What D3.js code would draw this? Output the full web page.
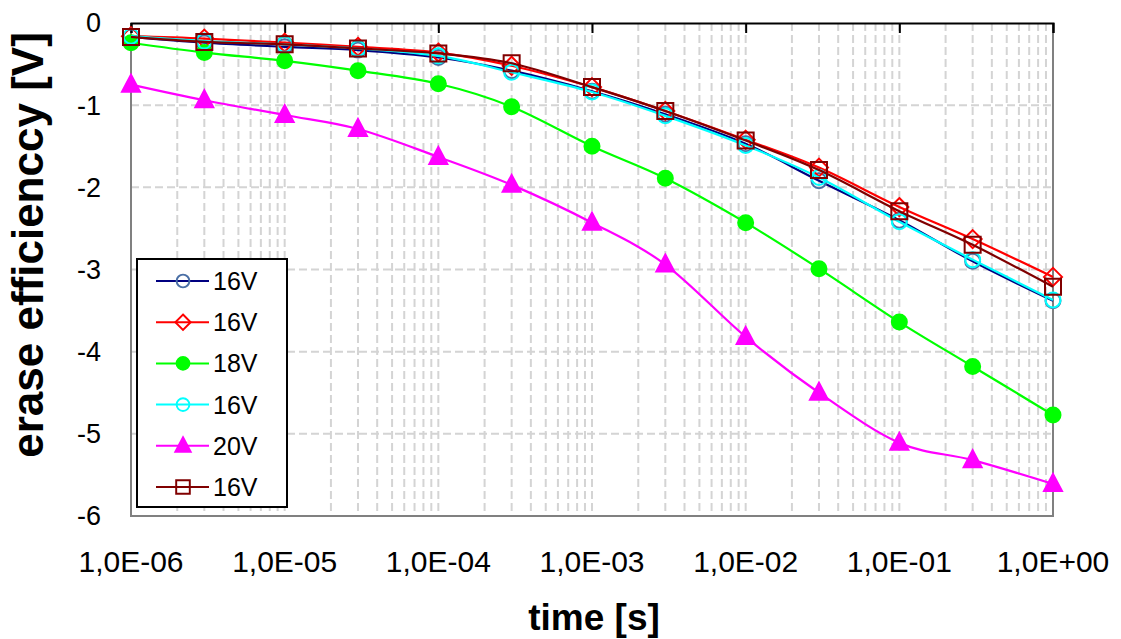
<!DOCTYPE html>
<html>
<head>
<meta charset="utf-8">
<script src="https://cdn.jsdelivr.net/npm/d3@7"></script>
<style>
  body { margin: 0; background: #fff; }
  svg { display: block; font-family: "Liberation Sans", Arial, sans-serif; }
</style>
</head>
<body>
<svg id="chart" width="1121" height="639"></svg>
<script>
// Erase time [s], one measurement per half decade
const times = [1e-6, 3e-6, 1e-5, 3e-5, 1e-4, 3e-4, 1e-3, 3e-3, 1e-2, 3e-2, 1e-1, 3e-1, 1];

// Threshold shift [V] for each erase run
const run16a = [-0.17, -0.24, -0.29, -0.33, -0.42, -0.58, -0.83, -1.11, -1.47, -1.92, -2.40, -2.90, -3.38];
const run16b = [-0.16, -0.19, -0.24, -0.29, -0.36, -0.52, -0.78, -1.07, -1.42, -1.76, -2.24, -2.63, -3.09];
const run18  = [-0.24, -0.36, -0.46, -0.58, -0.74, -1.02, -1.50, -1.89, -2.43, -2.99, -3.64, -4.18, -4.77];
const run16c = [-0.16, -0.22, -0.26, -0.31, -0.40, -0.60, -0.84, -1.13, -1.49, -1.88, -2.42, -2.88, -3.37];
const run20  = [-0.75, -0.94, -1.12, -1.29, -1.63, -1.97, -2.43, -2.94, -3.82, -4.50, -5.11, -5.32, -5.61];
const run16d = [-0.17, -0.23, -0.26, -0.31, -0.37, -0.49, -0.78, -1.07, -1.43, -1.79, -2.29, -2.70, -3.21];

const seriesLabels = ["16V", "16V", "18V", "16V", "20V", "16V"];

const xTickValues = [1e-6, 1e-5, 1e-4, 1e-3, 1e-2, 1e-1, 1];
const xTickLabels = ["1,0E-06", "1,0E-05", "1,0E-04", "1,0E-03", "1,0E-02", "1,0E-01", "1,0E+00"];
const yTickValues = [0, -1, -2, -3, -4, -5, -6];

const allRuns = [run16a, run16b, run18, run16c, run20, run16d];

// Line / marker appearance per run
const looks = [
  { line: "#000080", mark: "#4a6fa5", shape: "circle",   fill: "none" },
  { line: "#ff0000", mark: "#ff0000", shape: "diamond",  fill: "none" },
  { line: "#00ff00", mark: "#00ff00", shape: "dot",      fill: "#00ff00" },
  { line: "#00ffff", mark: "#00ffff", shape: "circle",   fill: "none" },
  { line: "#ff00ff", mark: "#ff00ff", shape: "triangle", fill: "#ff00ff" },
  { line: "#800000", mark: "#800000", shape: "square",   fill: "none" }
];

const svg = d3.select("#chart");
const plotL = 131, plotR = 1053, plotT = 23, plotB = 516;

const x = d3.scaleLog().domain([1e-6, 1]).range([plotL, plotR]);
const y = d3.scaleLinear().domain([-6, 0]).range([plotB, plotT]);

// Minor + major vertical grid (dashed)
const gridX = [];
for (let e = -6; e < 0; e++) {
  for (let m = 1; m <= 9; m++) gridX.push(m * Math.pow(10, e));
}
const grid = svg.append("g").attr("stroke", "#d4d4d4").attr("stroke-width", 2)
  .attr("stroke-dasharray", "8,4");
grid.selectAll("line.v").data(gridX.filter(v => v > 1e-6)).join("line")
  .attr("class", "v")
  .attr("x1", d => x(d)).attr("x2", d => x(d))
  .attr("y1", plotT).attr("y2", plotB);
grid.selectAll("line.h").data(yTickValues.filter(v => v < 0 && v > -6)).join("line")
  .attr("class", "h")
  .attr("x1", plotL).attr("x2", plotR)
  .attr("y1", d => y(d)).attr("y2", d => y(d));

// Plot frame
svg.append("path")
  .attr("d", `M${plotL},${plotT}V${plotB}H${plotR}V${plotT}`)
  .attr("fill", "none").attr("stroke", "#808080").attr("stroke-width", 2);

// X axis sits at y = 0 (top edge), ticks point down, labels are placed below the plot
const xAxis = d3.axisBottom(x).tickValues(xTickValues).tickSize(10).tickFormat("");
const gx = svg.append("g").attr("transform", `translate(0,${y(0)})`).call(xAxis);
gx.select(".domain").attr("stroke", "#000").attr("stroke-width", 2);
gx.selectAll(".tick line").attr("stroke", "#000").attr("stroke-width", 2);

svg.append("g").selectAll("text").data(xTickValues).join("text")
  .attr("x", d => x(d)).attr("y", 572)
  .attr("text-anchor", "middle")
  .attr("font-size", 30)
  .text((d, i) => xTickLabels[i]);

// Y tick labels
svg.append("g").selectAll("text").data(yTickValues).join("text")
  .attr("x", 101).attr("y", d => y(d))
  .attr("dy", "0.35em")
  .attr("text-anchor", "end")
  .attr("font-size", 27)
  .text(d => String(d));

// Axis titles
svg.append("text")
  .attr("x", 594).attr("y", 630)
  .attr("text-anchor", "middle")
  .attr("font-size", 37).attr("font-weight", "bold")
  .text("time [s]");
svg.append("text")
  .attr("transform", "translate(43,245) rotate(-90)")
  .attr("text-anchor", "middle")
  .attr("font-size", 44).attr("font-weight", "bold")
  .text("erase efficienccy [V]");

// Marker shapes
function markerPath(shape) {
  switch (shape) {
    case "circle":
    case "dot":
      return d3.symbol(d3.symbolCircle, Math.PI * 7.5 * 7.5)();
    case "diamond":
      return "M0,-9L9,0L0,9L-9,0Z";
    case "square":
      return "M-8,-8H8V8H-8Z";
    case "triangle":
      return "M0,-10L9,7H-9Z";
  }
}

const line = d3.line()
  .x((d, i) => x(times[i]))
  .y(d => y(d))
  .curve(d3.curveCatmullRom.alpha(0));

allRuns.forEach((vals, k) => {
  const lk = looks[k];
  const g = svg.append("g");
  g.append("path").datum(vals)
    .attr("d", line)
    .attr("fill", "none").attr("stroke", lk.line).attr("stroke-width", 2.2);
  g.selectAll("path.m").data(vals).join("path")
    .attr("class", "m")
    .attr("transform", (d, i) => `translate(${x(times[i])},${y(d)})`)
    .attr("d", markerPath(lk.shape))
    .attr("fill", lk.fill)
    .attr("stroke", lk.mark).attr("stroke-width", 2);
});

// Legend
const legend = svg.append("g");
legend.append("rect")
  .attr("x", 137).attr("y", 259).attr("width", 150).attr("height", 248)
  .attr("fill", "#fff").attr("stroke", "#000").attr("stroke-width", 2);
const rowY = d3.scalePoint().domain(d3.range(seriesLabels.length)).range([281, 487]);
seriesLabels.forEach((name, k) => {
  const lk = looks[k];
  const yy = rowY(k);
  legend.append("line")
    .attr("x1", 156).attr("x2", 209).attr("y1", yy).attr("y2", yy)
    .attr("stroke", lk.line).attr("stroke-width", 2);
  legend.append("path")
    .attr("transform", `translate(183,${yy}) scale(0.85)`)
    .attr("d", markerPath(lk.shape))
    .attr("fill", lk.fill)
    .attr("stroke", lk.mark).attr("stroke-width", 2.3);
  legend.append("text")
    .attr("x", 213).attr("y", yy).attr("dy", "0.36em")
    .attr("font-size", 25)
    .text(name);
});
</script>
</body>
</html>
